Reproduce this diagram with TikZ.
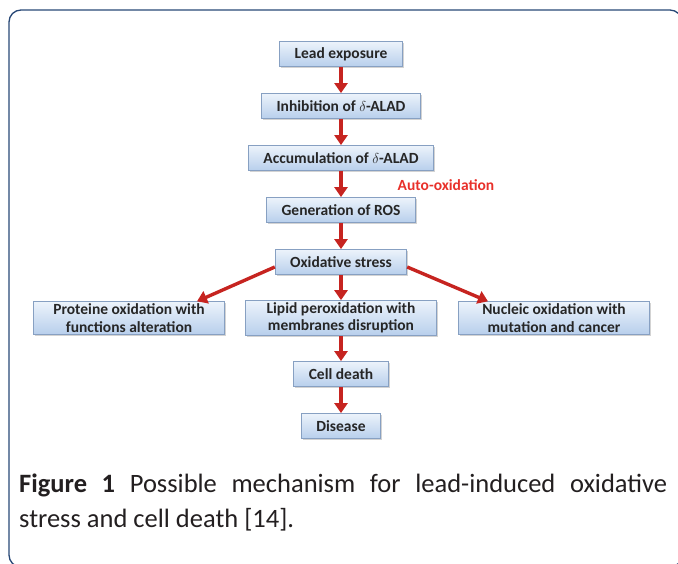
\documentclass[tikz,border=0pt]{standalone}
\usepackage{fontspec}
\setmainfont{Carlito}
\usetikzlibrary{shapes.geometric, arrows.meta, shadows}
\definecolor{boxtop}{RGB}{236,243,251}
\definecolor{boxbot}{RGB}{184,207,236}
\definecolor{boxline}{RGB}{135,160,194}
\definecolor{boxtext}{RGB}{38,38,38}
\definecolor{arrowred}{RGB}{198,36,32}
\definecolor{autored}{RGB}{232,48,42}
\definecolor{framecol}{RGB}{40,72,118}
\tikzstyle{process} = [rectangle, minimum height=25pt, inner xsep=15pt, inner ysep=2pt, text centered, draw=boxline, line width=0.8pt, top color=boxtop, bottom color=boxbot, drop shadow={shadow xshift=1.5pt, shadow yshift=-1.5pt, opacity=0.35}, text=boxtext, font=\bfseries\fontsize{15.5}{17.5}\selectfont]
\tikzstyle{outcome} = [process, minimum width=191pt, align=center]
\tikzstyle{arrow} = [line width=3.4pt, draw=arrowred, -{Triangle[width=13pt,length=10pt]}]

\begin{document}
\begin{tikzpicture}[node distance=52pt, x=1pt, y=1pt]
    \useasboundingbox (0,0) rectangle (678,564);
    \draw [framecol, line width=1.3pt, rounded corners=12pt] (9,-3) rectangle (682,554);

    \node (lead) [process] at (341,510) {Lead exposure};
    \node (inh) [process, below of=lead] {Inhibition of $\delta$-ALAD};
    \node (acc) [process, below of=inh] {Accumulation of $\delta$-ALAD};
    \node (ros) [process, below of=acc] {Generation of ROS};
    \node (ox) [process, below of=ros] {Oxidative stress};
    \node (lip) [outcome, below of=ox, yshift=-4pt] {Lipid peroxidation with\\membranes disruption};
    \node (prot) [outcome, left of=lip, xshift=-160pt] {Proteine oxidation with\\functions alteration};
    \node (nuc) [outcome, right of=lip, xshift=161pt] {Nucleic oxidation with\\mutation and cancer};
    \node (cell) [process, below of=lip, yshift=-4pt] {Cell death};
    \node (dis) [process, below of=cell] {Disease};
    \node (auto) [text=autored, font=\bfseries\fontsize{15.5}{17.5}\selectfont] at (446,379) {Auto-oxidation};

    \draw [arrow] (lead) -- (inh);
    \draw [arrow] (inh) -- (acc);
    \draw [arrow] (acc) -- (ros);
    \draw [arrow] (ros) -- (ox);
    \draw [arrow] (ox) -- (lip);
    \draw [arrow] ([yshift=-5pt]ox.west) -- ([xshift=68pt]prot.north);
    \draw [arrow] ([yshift=-5pt]ox.east) -- ([xshift=-66pt]nuc.north);
    \draw [arrow] (lip) -- (cell);
    \draw [arrow] (cell) -- (dis);

    \node (caption) [anchor=north west, text width=648pt, align=justify, inner sep=0pt, text={rgb,255:red,35;green,31;blue,32}, font=\fontsize{26.5}{35}\selectfont] at (19,90) {\textbf{Figure 1} Possible mechanism for lead-induced oxidative stress and cell death [14].};
\end{tikzpicture}
\end{document}
